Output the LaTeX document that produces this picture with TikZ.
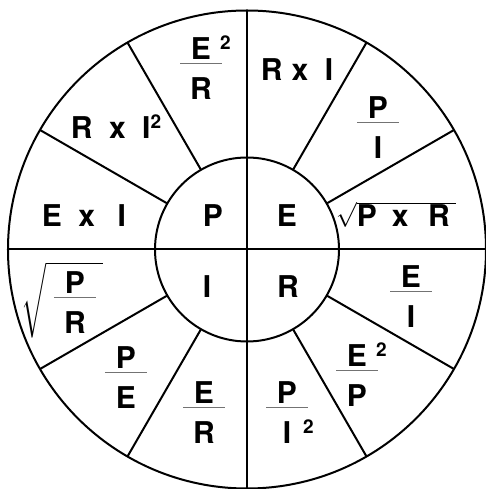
\documentclass[tikz,border=0pt]{standalone}
\usepackage{amsmath}
\usepackage{fontspec}
\setmainfont{TeX Gyre Heros}
\usepackage{tikz}
\usetikzlibrary{calc}

% small raised 2, hanging to the right of its letter
\newcommand{\sqd}[1]{\rlap{\hspace{#1}\raisebox{10pt}{\fontsize{19}{19}\selectfont 2}}}

\begin{document}
\begin{tikzpicture}[
  x=1pt, y=1pt,
  ring/.style={line width=2pt},
  spoke/.style={line width=2pt},
  term/.style={font=\fontsize{30}{36}\selectfont\bfseries, inner sep=0pt, anchor=base},
  bar/.style={line width=1.3pt, black!55},
  root/.style={font=\fontsize{30}{36}\selectfont\bfseries, inner sep=0pt},
]
\useasboundingbox (-247,-239.5) rectangle (239,249.5);

% Rings
\coordinate (c) at (0,0);
\draw[ring] (c) circle (239);
\draw[ring] (c) circle (92);

% Cross through the whole wheel
\draw[spoke] (90:239) -- (270:239);
\draw[spoke] (0:239) -- (180:239);

% Spokes between inner and outer ring
\draw[spoke] (30:92) -- (30:239);
\draw[spoke] (60:92) -- (60:239);
\draw[spoke] (120:92) -- (120:239);
\draw[spoke] (150:92) -- (150:239);
\draw[spoke] (210:92) -- (210:239);
\draw[spoke] (240:92) -- (240:239);
\draw[spoke] (300:92) -- (300:239);
\draw[spoke] (330:92) -- (330:239);

% Hub letters
\node[term] (hubP) at (-34,22.5) {P};
\node[term] (hubE) at (40,22.5) {E};
\node[term] (hubI) at (-40,-48.5) {I};
\node[term] (hubR) at (41,-48.5) {R};

% Plain terms
\node[term] (rxi)  at (50,169) {R\hspace{0.3em}x\hspace{0.55em}I};
\node[term] (rxii) at (-131,111) {R\hspace{0.55em}x\hspace{0.55em}I\raisebox{10pt}{\fontsize{19}{19}\selectfont 2}};
\node[term] (exi)  at (-163,22.5) {E\hspace{0.55em}x\hspace{0.75em}I};
\node[root, anchor=base west] (rtpr) at (89,22.5)
  {$\sqrt{\mbox{P\hspace{0.5em}x\hspace{0.65em}R}\hspace{6pt}}$};

% Tall root over P/R
\node[root, anchor=north west] (rtbig) at (-226,-12.5)
  {$\sqrt{\rule[-38pt]{0pt}{68pt}\hspace{57pt}}$};

% Fractions: numerator, bar, denominator
\node[term] (erN) at (-46,190) {E\sqd{9pt}};
\draw[bar] (-67,186) -- (-25,186);
\node[term] (erD) at (-46,150) {R};

\node[term] (piN) at (131,131) {P};
\draw[bar] (110,127) -- (152,127);
\node[term] (piD) at (131,91) {I};

\node[term] (prN) at (-172,-44) {P};
\draw[bar] (-193,-48) -- (-151,-48);
\node[term] (prD) at (-172,-84) {R};

\node[term] (peN) at (-121,-119) {P};
\draw[bar] (-142,-123) -- (-100,-123);
\node[term] (peD) at (-121,-159) {E};

\node[term] (errN) at (-43,-154) {E};
\draw[bar] (-64,-158) -- (-22,-158);
\node[term] (errD) at (-43,-194) {R};

\node[term] (piiN) at (40,-154) {P};
\draw[bar] (19,-158) -- (61,-158);
\node[term] (piiD) at (40,-194) {I\sqd{12pt}};

\node[term] (epN) at (110,-117) {E\sqd{9pt}};
\draw[bar] (89,-121) -- (131,-121);
\node[term] (epD) at (110,-157) {P};

\node[term] (eiN) at (164,-38) {E};
\draw[bar] (143,-42) -- (185,-42);
\node[term] (eiD) at (164,-78) {I};
\end{tikzpicture}
\end{document}
